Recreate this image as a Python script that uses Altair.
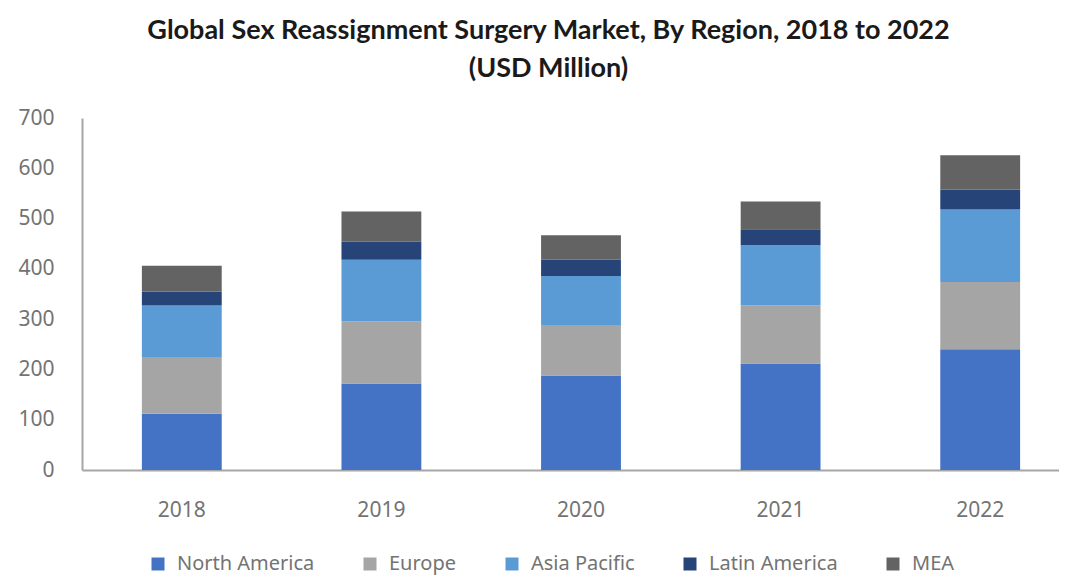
import altair as alt
import pandas as pd

years = ["2018", "2019", "2020", "2021", "2022"]
regions = ["North America", "Europe", "Asia Pacific", "Latin America", "MEA"]
north_america = [112, 172, 188, 212, 240]
europe = [111, 124, 99, 115, 134]
asia_pacific = [104, 122, 99, 120, 144]
latin_america = [28, 36, 32, 32, 40]
mea = [51, 60, 49, 55, 68]
colors = ["#4472C4", "#A5A5A5", "#5B9BD5", "#264478", "#636363"]
y_ticks = [0, 100, 200, 300, 400, 500, 600, 700]

series = [north_america, europe, asia_pacific, latin_america, mea]
rows = []
for i, (r, vals) in enumerate(zip(regions, series)):
    for yr, v in zip(years, vals):
        rows.append({"Year": yr, "Region": r, "Value": v, "order": i})
df = pd.DataFrame(rows)

label_font = "Noto Sans"
label_color = "#737373"
axis_color = "#a6a6a6"

chart = alt.Chart(df).mark_bar().encode(
    x=alt.X(
        "Year:N",
        sort=years,
        scale=alt.Scale(range=[0, 998], paddingInner=0.6, paddingOuter=0.3),
        axis=alt.Axis(
            title=None, labelAngle=0, ticks=False, domainColor=axis_color,
            domainWidth=2, labelFont=label_font, labelFontSize=21,
            labelColor=label_color, labelPadding=29, grid=False,
        ),
    ),
    y=alt.Y(
        "Value:Q",
        stack="zero",
        scale=alt.Scale(domain=[0, 700], nice=False),
        axis=alt.Axis(
            title=None, values=y_ticks, ticks=False, domainColor=axis_color,
            domainWidth=2, labelFont=label_font, labelFontSize=21,
            labelColor=label_color, labelPadding=28, grid=False,
        ),
    ),
    color=alt.Color(
        "Region:N",
        scale=alt.Scale(domain=regions, range=colors),
        legend=alt.Legend(
            title=None, orient="none", direction="horizontal",
            legendX=66, legendY=436, symbolType="square", symbolSize=169,
            symbolStrokeWidth=0, labelFont=label_font, labelFontSize=20,
            labelColor=label_color, columnPadding=45, labelOffset=9,
            padding=0,
        ),
    ),
    order=alt.Order("order:Q", sort="ascending"),
).properties(
    width=977,
    height=352,
    autosize=alt.AutoSizeParams(type="none"),
    padding={"left": 74, "top": 110, "right": 0, "bottom": 107},
    title=alt.TitleParams(
        text=["Global Sex Reassignment Surgery Market, By Region, 2018 to 2022", "(USD Million)"],
        font="Lato", fontSize=27, fontWeight="bold", color="#1a1a1a",
        lineHeight=38, anchor="middle", dx=-22, offset=24,
    ),
).configure_view(stroke=None)

chart.save("out.html", embed_options={"renderer": "svg", "actions": False})
